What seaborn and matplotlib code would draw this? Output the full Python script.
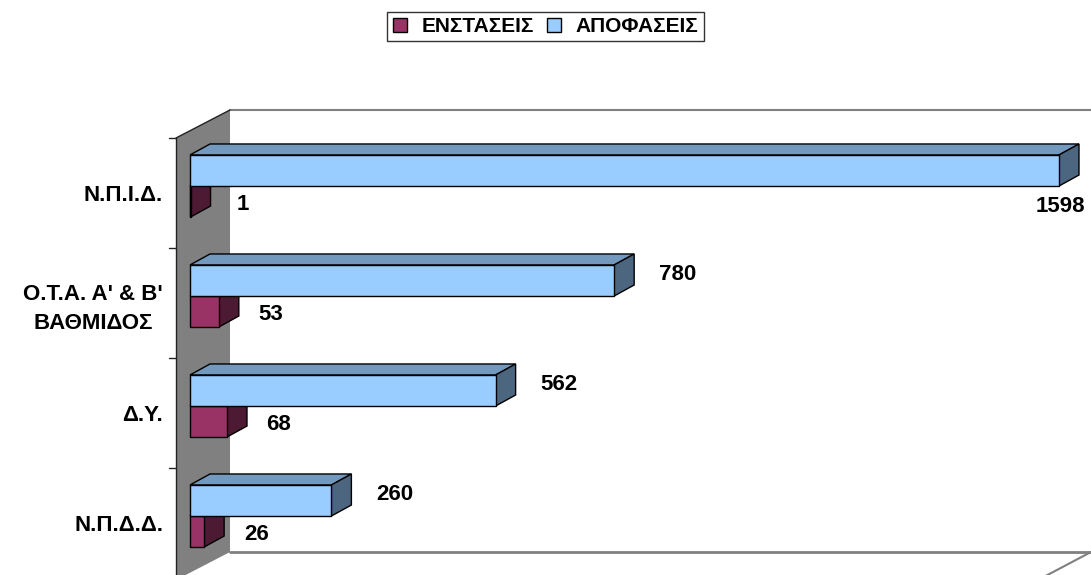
import pandas as pd
import matplotlib.pyplot as plt
import seaborn as sns
from matplotlib.patches import Polygon, Patch
from matplotlib.transforms import IdentityTransform, ScaledTranslation

categories = ["Ν.Π.Ι.Δ.", "Ο.Τ.Α. Α' & Β'\nΒΑΘΜΙΔΟΣ", "Δ.Υ.", "Ν.Π.Δ.Δ."]
enstaseis = [1, 53, 68, 26]
apofaseis = [1598, 780, 562, 260]
series = ["ΕΝΣΤΑΣΕΙΣ", "ΑΠΟΦΑΣΕΙΣ"]

blue = "#99CCFF"
maroon = "#993366"

df = pd.DataFrame({
    "cat": categories * 2,
    "value": apofaseis + enstaseis,
    "series": [series[1]] * 4 + [series[0]] * 4,
})

sns.set_style("white")
plt.rcParams["font.family"] = ["Liberation Sans", "DejaVu Sans"]
plt.rcParams["font.weight"] = "bold"
plt.rcParams["text.color"] = "black"
plt.rcParams["ytick.color"] = "black"

W, H = 1091, 575
fig = plt.figure(figsize=(W / 100, H / 100), dpi=100)

# background: walls drawn in pixel space
bg = fig.add_axes([0, 0, 1, 1], zorder=0)
bg.set_xlim(0, W)
bg.set_ylim(H, 0)
bg.axis("off")
bg.add_patch(Polygon([(176, 138), (230, 110), (230, 552), (176, 580)],
                     closed=True, fc="#808080", ec="none"))
bg.plot([230, W], [110, 110], color="#808080", lw=1.5)
bg.plot([230, W], [552, 552], color="#808080", lw=2)
bg.plot([W, W - 53], [552, 580], color="#808080", lw=1.5)
bg.plot([176, 230], [138, 110], color="#222222", lw=1)
bg.plot([176, 176], [138, 580], color="#222222", lw=1)
for i in range(len(categories)):
    yy = 138 + 110 * i
    bg.plot([169, 176], [yy, yy], color="#222222", lw=1)

# main axes = front plane of the bars
px = 869 / 1598.0
ax = fig.add_axes([190 / W, (H - 552) / H, 900 / W, 442 / H], zorder=1)
ax.patch.set_alpha(0)
sns.barplot(data=df, y="cat", x="value", hue="series",
            hue_order=[series[1], series[0]], palette=[blue, maroon],
            orient="h", width=0.564, saturation=1, edgecolor="black",
            linewidth=1, legend=False, ax=ax)
ax.set_xlim(0, 900 / px)
ax.set_ylim((552 - 186) / 110, (110 - 186) / 110)
ax.set_xlabel("")
ax.set_ylabel("")
ax.set_xticks([])
sns.despine(ax=ax, left=True, bottom=True)
ax.set_yticks(range(len(categories)))
ax.set_yticklabels(categories, fontsize=16, fontweight="bold", color="black")
ax.tick_params(axis="y", length=0, pad=27 * 0.72)
off = ScaledTranslation(0, -7 / 100, fig.dpi_scale_trans)
for lab in ax.get_yticklabels():
    lab.set_transform(lab.get_transform() + off)
    lab.set_multialignment("center")
    lab.set_linespacing(1.45)

# 3D top and side faces built from the seaborn bars
dx, dy = 20, 11


def shade(c, f):
    r, g, b = plt.matplotlib.colors.to_rgb(c)
    return (r * f, g * f, b * f)


fig.canvas.draw()
bars = list(ax.patches)
# maroon first so blue bars cover them
order = [p for p in bars if plt.matplotlib.colors.to_hex(p.get_facecolor()) == maroon.lower()] + \
        [p for p in bars if plt.matplotlib.colors.to_hex(p.get_facecolor()) != maroon.lower()]
for z, p in enumerate(order):
    bb = p.get_window_extent()
    x0, x1, y0, y1 = bb.x0, bb.x1, bb.y0, bb.y1
    fc = p.get_facecolor()
    top = Polygon([(x0, y1), (x1, y1), (x1 + dx, y1 + dy), (x0 + dx, y1 + dy)],
                  closed=True, fc=shade(fc, 0.75), ec="black", lw=1,
                  transform=IdentityTransform(), zorder=2 + z * 0.01)
    side = Polygon([(x1, y0), (x1, y1), (x1 + dx, y1 + dy), (x1 + dx, y0 + dy)],
                   closed=True, fc=shade(fc, 0.5), ec="black", lw=1,
                   transform=IdentityTransform(), zorder=2 + z * 0.01)
    front = Polygon([(x0, y0), (x1, y0), (x1, y1), (x0, y1)], closed=True,
                    fc=fc, ec="black", lw=1, transform=IdentityTransform(),
                    zorder=2 + z * 0.01 + 0.005)
    p.set_visible(False)
    fig.patches.extend([top, side, front])

# value labels
h = 0.564 / 4
vmax = max(apofaseis)
for i, v in enumerate(apofaseis):
    if v > 0.9 * vmax:
        ax.annotate(str(v), xy=(v, i - h), xytext=(1, -36), textcoords="offset pixels",
                    ha="center", va="center", fontsize=16, fontweight="bold")
    else:
        ax.annotate(str(v), xy=(v, i - h), xytext=(63, 6), textcoords="offset pixels",
                    ha="center", va="center", fontsize=16, fontweight="bold")
for i, v in enumerate(enstaseis):
    ax.annotate(str(v), xy=(v, i + h), xytext=(52, -3), textcoords="offset pixels",
                ha="center", va="center", fontsize=16, fontweight="bold")

handles = [Patch(fc=maroon, ec="black", lw=1, label=series[0]),
           Patch(fc=blue, ec="black", lw=1, label=series[1])]
leg = fig.legend(handles=handles, loc="upper center", bbox_to_anchor=(0.5, 1 - 12 / H),
                 ncol=2, frameon=True, fancybox=False, edgecolor="black",
                 handlelength=0.7, handleheight=0.7, handletextpad=0.7,
                 columnspacing=0.6, borderpad=0.25, borderaxespad=0,
                 prop={"weight": "bold", "size": 15})
leg.get_frame().set_linewidth(1)

fig.savefig("out.png", dpi=100)
